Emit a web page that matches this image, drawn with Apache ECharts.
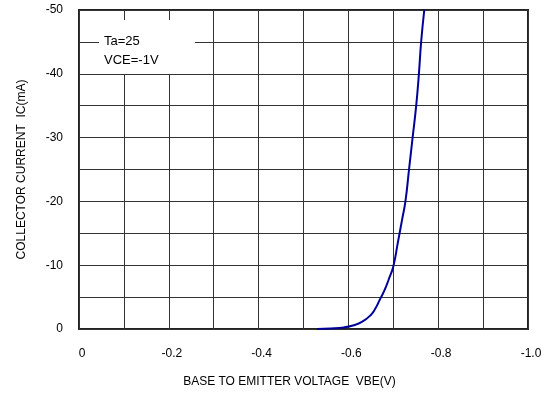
<!DOCTYPE html>
<html>
<head>
<meta charset="utf-8">
<script src="https://cdn.jsdelivr.net/npm/echarts@6/dist/echarts.min.js"></script>
<style>
html,body{margin:0;padding:0;background:#fff;}
#main{width:549px;height:393px;}
</style>
</head>
<body>
<div id="main"></div>
<script>
// VBE (V) vs IC (mA)
var vbe = [-0.53, -0.56, -0.59, -0.61, -0.63, -0.65, -0.66, -0.67, -0.68, -0.69, -0.70, -0.71, -0.72, -0.727, -0.735, -0.743, -0.751, -0.757, -0.762, -0.769];
var ic  = [0, -0.08, -0.25, -0.55, -1.1, -2.2, -3.2, -4.6, -6.0, -7.8, -9.8, -13.5, -17.3, -20, -25, -30, -35, -40, -45, -50];
var note = ['Ta=25', 'VCE=-1V'];

var pts = [];
for (var i = 0; i < vbe.length; i++) {
	pts.push([vbe[i], ic[i]]);
}

var font = 'Liberation Sans, Arial, sans-serif';
var myChart = echarts.init(document.getElementById('main'));

myChart.setOption({
	animation: false,
	backgroundColor: '#fff',
	grid: {left: 79, right: 21, top: 10, bottom: 64, show: true, borderColor: '#222', borderWidth: 2},
	xAxis: {
		type: 'value', min: -1, max: 0, interval: 0.1, inverse: true,
		name: 'BASE TO EMITTER VOLTAGE  VBE(V)', nameLocation: 'middle', nameGap: 47,
		nameTextStyle: {fontFamily: font, fontSize: 12, color: '#000', padding: [0, 28, 0, 0]},
		axisLine: {show: false}, axisTick: {show: false},
		axisLabel: {
			margin: 19, fontFamily: font, fontSize: 12, color: '#000', padding: [0, 0, 0, 6],
			formatter: function (v) {
				var n = Math.round(-v * 10);
				if (n % 2) return '';
				if (n == 0) return '0';
				return '-' + (n / 10).toFixed(1);
			}
		},
		splitLine: {lineStyle: {color: '#333', width: 1}}
	},
	yAxis: {
		type: 'value', min: -50, max: 0, interval: 5, inverse: true,
		name: 'COLLECTOR CURRENT  IC(mA)', nameLocation: 'middle', nameGap: 51,
		nameTextStyle: {fontFamily: font, fontSize: 12, color: '#000'},
		axisLine: {show: false}, axisTick: {show: false},
		axisLabel: {
			margin: 16, fontFamily: font, fontSize: 12, color: '#000',
			formatter: function (v) {
				var n = Math.round(v);
				if (n % 10) return '';
				return n == 0 ? '0' : String(n);
			}
		},
		splitLine: {lineStyle: {color: '#333', width: 1}}
	},
	graphic: [
		{type: 'rect', left: 99, top: 20, shape: {width: 96, height: 54}, style: {fill: '#fff'}, z: 10},
		{type: 'text', left: 104, top: 32, z: 11,
			style: {text: note.join('\n'), font: '13px ' + font, fill: '#000', lineHeight: 19}}
	],
	series: [{
		type: 'line',
		data: pts,
		smooth: 0.5,
		symbol: 'none',
		lineStyle: {color: '#000099', width: 2},
		z: 5
	}]
});
</script>
</body>
</html>
